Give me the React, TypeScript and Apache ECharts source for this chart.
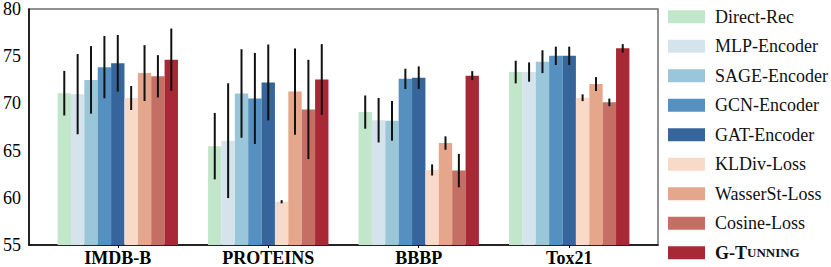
import React, { useEffect, useRef } from "react";
import * as echarts from "echarts";

const datasets = ["IMDB-B", "PROTEINS", "BBBP", "Tox21"];
const methods = [
  "Direct-Rec",
  "MLP-Encoder",
  "SAGE-Encoder",
  "GCN-Encoder",
  "GAT-Encoder",
  "KLDiv-Loss",
  "WasserSt-Loss",
  "Cosine-Loss",
  "G-Tunning",
];
const colors = [
  "#c2e6c9",
  "#d5e3ec",
  "#9ac6da",
  "#5590c0",
  "#35659a",
  "#f9dac9",
  "#e5a78b",
  "#c56e63",
  "#a82935",
];
// mean values per method, across datasets [IMDB-B, PROTEINS, BBBP, Tox21]
const directRec = [71.08, 65.47, 69.08, 73.32];
const mlpEncoder = [70.98, 66.05, 68.22, 73.32];
const sageEncoder = [72.49, 71.05, 68.15, 74.42];
const gcnEncoder = [73.84, 70.53, 72.6, 75.04];
const gatEncoder = [74.25, 72.22, 72.73, 75.04];
const kldivLoss = [70.57, 59.58, 62.95, 70.6];
const wasserLoss = [73.21, 71.25, 65.8, 72.05];
const cosineLoss = [72.87, 69.36, 62.88, 70.11];
const gTunning = [74.63, 72.53, 72.94, 75.83];
// standard deviations
const directRecStd = [2.36, 3.52, 1.76, 1.2];
const mlpEncoderStd = [4.25, 6.08, 2.36, 1.02];
const sageEncoderStd = [3.58, 4.69, 2.1, 1.21];
const gcnEncoderStd = [3.3, 4.82, 1.07, 0.97];
const gatEncoderStd = [3.0, 4.02, 1.19, 0.97];
const kldivLossStd = [1.27, 0.17, 0.59, 0.36];
const wasserLossStd = [2.96, 4.57, 0.71, 0.74];
const cosineLossStd = [2.24, 5.26, 1.77, 0.4];
const gTunningStd = [3.3, 3.75, 0.48, 0.45];

const yTicks = [55, 60, 65, 70, 75, 80];

const values = [directRec, mlpEncoder, sageEncoder, gcnEncoder, gatEncoder, kldivLoss, wasserLoss, cosineLoss, gTunning];
const stds = [directRecStd, mlpEncoderStd, sageEncoderStd, gcnEncoderStd, gatEncoderStd, kldivLossStd, wasserLossStd, cosineLossStd, gTunningStd];

const SERIF = "'Liberation Serif', 'Times New Roman', serif";

export default function App() {
  const ref = useRef<HTMLDivElement>(null);
  useEffect(() => {
    if (!ref.current) return;
    const chart = echarts.init(ref.current, null, { renderer: "svg" });
    const n = methods.length;
    const bw = 0.8 / n;
    const yMin = yTicks[0];
    const series = methods.map((name, i) => ({
      type: "custom",
      name,
      itemStyle: { color: colors[i] },
      encode: { x: 0, y: 1 },
      data: datasets.map((_, j) => [j, values[i][j], stds[i][j]]),
      renderItem: (params: any, api: any) => {
        const cx = api.value(0) + (i - (n - 1) / 2) * bw;
        const v = api.value(1);
        const e = api.value(2);
        const p0 = api.coord([cx - bw / 2, v]);
        const p1 = api.coord([cx + bw / 2, yMin]);
        const e0 = api.coord([cx, v + e]);
        const e1 = api.coord([cx, v - e]);
        return {
          type: "group",
          children: [
            {
              type: "rect",
              shape: { x: p0[0], y: p0[1], width: p1[0] - p0[0], height: p1[1] - p0[1] },
              style: { fill: colors[i] },
            },
            {
              type: "line",
              shape: { x1: e0[0], y1: e0[1], x2: e1[0], y2: e1[1] },
              style: { stroke: "#111", lineWidth: 2 },
            },
          ],
        };
      },
    }));
    chart.setOption({
      animation: false,
      grid: {
        left: 25,
        right: 173,
        top: 6,
        height: 242,
        show: true,
        borderColor: "#6e6e6e",
        borderWidth: 1.5,
      },
      legend: {
        orient: "vertical",
        left: 668,
        top: 7.7,
        padding: 0,
        itemWidth: 37,
        itemHeight: 13,
        itemGap: 11.5,
        icon: "rect",
        data: methods,
        textStyle: {
          fontFamily: SERIF,
          fontSize: 18,
          lineHeight: 18,
          color: "#111",
          padding: [0, 0, 0, 5],
          rich: {
            b: { fontFamily: SERIF, fontSize: 18, lineHeight: 18, fontWeight: "bold", color: "#111" },
            s: { fontFamily: SERIF, fontSize: 13, lineHeight: 18, fontWeight: "bold", color: "#111" },
          },
        },
        formatter: (name: string) =>
          name === "G-Tunning" ? "{b|G-T}{s|UNNING}" : name,
      },
      xAxis: {
        type: "value",
        min: -0.59,
        max: 3.59,
        splitLine: { show: false },
        axisLine: { show: true, onZero: false, lineStyle: { color: "#000", width: 1.5 } },
        axisTick: { show: true, customValues: [0, 1, 2, 3], length: 3, lineStyle: { color: "#000", width: 1 } },
        axisLabel: {
          customValues: [0, 1, 2, 3],
          formatter: (v: number) => datasets[Math.round(v)],
          fontFamily: SERIF,
          fontSize: 18,
          fontWeight: "bold",
          color: "#000",
          margin: 4,
        },
      },
      yAxis: {
        type: "value",
        min: yTicks[0],
        max: yTicks[yTicks.length - 1],
        interval: 5,
        splitLine: { show: false },
        axisLine: { show: true, onZero: false, lineStyle: { color: "#000", width: 1.5 } },
        axisTick: { show: false },
        axisLabel: {
          fontFamily: SERIF,
          fontSize: 18,
          color: "#000",
          margin: 8,
        },
      },
      series,
    });
    return () => chart.dispose();
  }, []);
  return (
    <div
      ref={ref}
      style={{ position: "fixed", left: 0, top: 0, width: 831, height: 267, background: "#fff" }}
    />
  );
}
